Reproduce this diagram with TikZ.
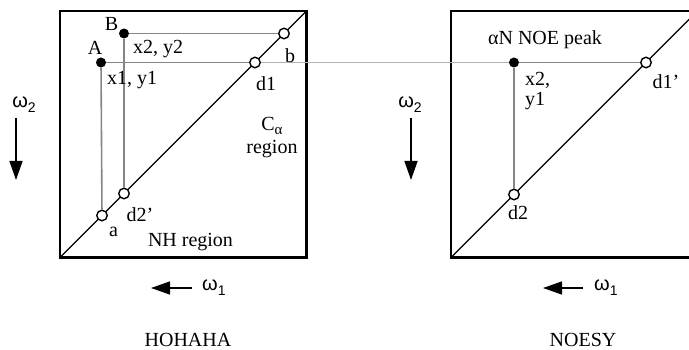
\documentclass[tikz,border=0pt]{standalone}
\usepackage{fontspec}
\setmainfont{Liberation Serif}
\newfontfamily\sansf{Liberation Sans}
\usetikzlibrary{arrows.meta}
\newcommand{\omg}[1]{{\sansf\fontsize{20}{20}\selectfont ω\raisebox{-5pt}{\fontsize{14}{14}\selectfont #1}}}
\newcommand{\apos}{\char"0027\relax}
\begin{document}
\begin{tikzpicture}[x=1pt,y=-1pt,
  txt/.style={font=\fontsize{20}{21}\selectfont, inner sep=0pt},
  filldot/.style={circle,fill=black,inner sep=0pt,minimum size=10pt},
  opendot/.style={circle,draw=black,fill=white,line width=1.4pt,inner sep=0pt,minimum size=10.5pt},
  gline/.style={draw=black!48, line width=1.6pt},
  lline/.style={draw=black!30, line width=1.2pt},
  frame/.style={draw=black, line width=2.2pt},
  diag/.style={draw=black, line width=1.4pt},
  axarrow/.style={line width=1.4pt, -{Triangle[length=19pt,width=13pt]}}
]
\useasboundingbox (0,0) rectangle (689,350);
\clip (0,0) rectangle (689,350);
% boxes
\draw[frame] (60,11) rectangle (306.5,257.5);
\draw[diag] (60,257.5) -- (306.5,11);
\draw[frame] (451,11) rectangle (697.5,257.5);
\draw[diag] (451,257.5) -- (697.5,11);
% points
\node[filldot] (A) at (101,62.5) {};
\node[filldot] (B) at (124,33.5) {};
\node[opendot] (d1) at (255,62.5) {};
\node[opendot] (b) at (284,33.5) {};
\node[opendot] (d2p) at (124,193.5) {};
\node[opendot] (a) at (102,215.5) {};
\node[filldot] (P) at (514,62.5) {};
\node[opendot] (d1p) at (646,62.5) {};
\node[opendot] (d2) at (514,194.5) {};
% gray connectors
\draw[gline] (A) -- (a);
\draw[gline] (A) -- (d1);
\draw[gline] (B) -- (b);
\draw[gline] (B) -- (d2p);
\draw[lline] (d1) -- (P);
\draw[gline] (P) -- (d1p);
\draw[gline] (P) -- (d2);
% labels
\node[txt] (lA) at (95,48) {A};
\node[txt] (lB) at (111.5,24) {B};
\node[txt,anchor=west] (lx2) at (133,49) {x2, y2};
\node[txt,anchor=west] (lx1) at (107,80) {x1, y1};
\node[txt] (lb) at (290,56) {b};
\node[txt] (ld1) at (266,84) {d1};
\node[txt] (lca) at (272,124) {C\raisebox{-4pt}[0pt][0pt]{\fontsize{15}{15}\selectfont α}};
\node[txt] (lreg) at (272,149) {region};
\node[txt] (ld2p) at (140,215) {d2\apos};
\node[txt] (la) at (113.5,232) {a};
\node[txt] (lnh) at (190.5,242) {NH region};
\node[txt] (lnoe) at (545,40) {αN NOE peak};
\node[txt,anchor=north west,align=left,font=\fontsize{20}{20}\selectfont] (lx2y1) at (525,72) {x2,\\y1};
\node[txt] (ld1p) at (666,82) {d1\apos};
\node[txt] (ld2) at (518,213) {d2};
% axes
\node[inner sep=0pt] (w2l) at (24,105) {\omg{2}};
\coordinate (w2ls) at (16,118);
\coordinate (w2le) at (16,180);
\draw[axarrow] (w2ls) -- (w2le);
\node[inner sep=0pt] (w2r) at (410,105) {\omg{2}};
\coordinate (w2rs) at (411,118);
\coordinate (w2re) at (411,180);
\draw[axarrow] (w2rs) -- (w2re);
\node[inner sep=0pt,anchor=west] (w1l) at (202,288) {\omg{1}};
\coordinate (w1ls) at (192,288);
\coordinate (w1le) at (151,288);
\draw[axarrow] (w1ls) -- (w1le);
\node[inner sep=0pt,anchor=west] (w1r) at (594,288) {\omg{1}};
\coordinate (w1rs) at (583,288);
\coordinate (w1re) at (543,288);
\draw[axarrow] (w1rs) -- (w1re);
\node[txt] (hoh) at (188,340) {HOHAHA};
\node[txt] (noe) at (583,340) {NOESY};
\end{tikzpicture}
\end{document}
